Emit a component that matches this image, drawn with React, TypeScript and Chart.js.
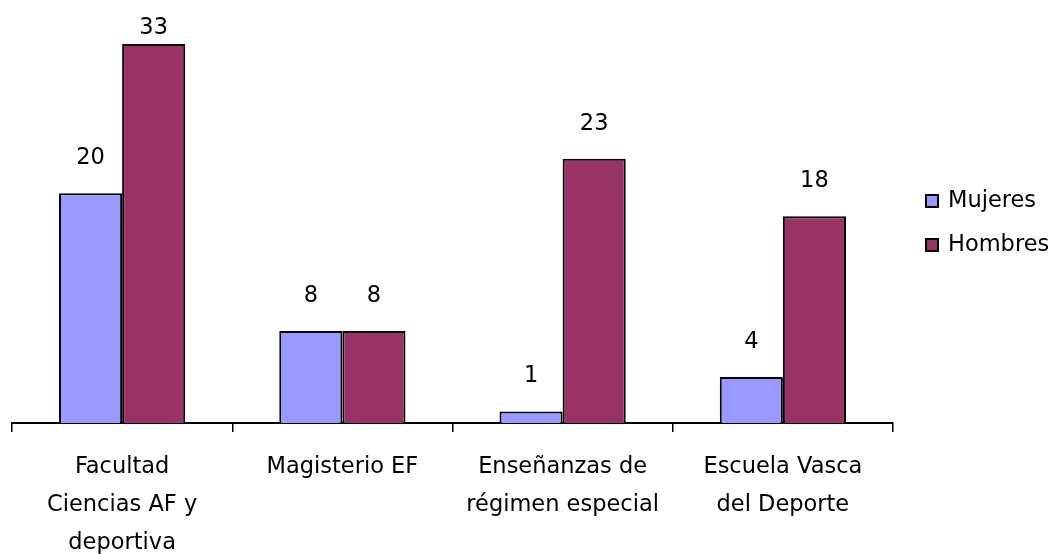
import React, { useEffect, useRef } from "react";
import { Chart, registerables } from "chart.js";

Chart.register(...registerables);

const categories: string[][] = [
  ["Facultad", "Ciencias AF y", "deportiva"],
  ["Magisterio EF"],
  ["Enseñanzas de", "régimen especial"],
  ["Escuela Vasca", "del Deporte"],
];
const seriesNames = ["Mujeres", "Hombres"];
const mujeres = [20, 8, 1, 4];
const hombres = [33, 8, 23, 18];
const colors = ["#9999FF", "#993366"];

const FONT = "'DejaVu Sans', sans-serif";
const SIZE = 22.5;

const labelsPlugin = {
  id: "barLabels",
  afterDatasetsDraw(chart: any) {
    const ctx = chart.ctx;
    ctx.save();
    ctx.font = `${SIZE}px ${FONT}`;
    ctx.fillStyle = "#000";
    ctx.textAlign = "center";
    ctx.textBaseline = "middle";
    chart.data.datasets.forEach((ds: any, i: number) => {
      const meta = chart.getDatasetMeta(i);
      meta.data.forEach((bar: any, j: number) => {
        const y = Math.max(bar.y - 35, 28);
        ctx.fillText(String(ds.data[j]), bar.x, y);
      });
    });
    // legend
    chart.data.datasets.forEach((ds: any, i: number) => {
      const yc = 201 + i * 44;
      ctx.fillStyle = ds.backgroundColor;
      ctx.fillRect(926, yc - 6, 12, 12);
      ctx.strokeStyle = "#000";
      ctx.lineWidth = 2;
      ctx.strokeRect(926, yc - 6, 12, 12);
      ctx.fillStyle = "#000";
      ctx.textAlign = "left";
      ctx.fillText(ds.label, 948, yc);
    });
    ctx.restore();
  },
};

export default function App() {
  const ref = useRef<HTMLCanvasElement>(null);
  useEffect(() => {
    if (!ref.current) return;
    const chart = new Chart(ref.current, {
      type: "bar",
      data: {
        labels: categories,
        datasets: [
          {
            label: seriesNames[0],
            data: mujeres,
            backgroundColor: colors[0],
            borderColor: "#000",
            borderWidth: 2,
          },
          {
            label: seriesNames[1],
            data: hombres,
            backgroundColor: colors[1],
            borderColor: "#000",
            borderWidth: 2,
          },
        ],
      },
      options: {
        animation: false,
        responsive: false,
        maintainAspectRatio: false,
        layout: { padding: { left: 12, right: 159, top: 21, bottom: 0 } },
        datasets: { bar: { categoryPercentage: 0.573, barPercentage: 1 } },
        plugins: { legend: { display: false }, tooltip: { enabled: false } },
        scales: {
          x: {
            afterFit: (scale: any) => {
              scale.height = 131;
            },
            grid: {
              display: true,
              drawOnChartArea: false,
              drawTicks: true,
              tickLength: 9,
              color: "#000",
              lineWidth: 1.5,
              offset: true,
            },
            border: { display: true, color: "#000", width: 2 },
            ticks: {
              color: "#000",
              padding: 16,
              maxRotation: 0,
              autoSkip: false,
              font: { family: FONT, size: SIZE, lineHeight: "38px" },
            },
          },
          y: {
            display: false,
            min: 0,
            max: 35,
          },
        },
      },
      plugins: [labelsPlugin],
    });
    return () => chart.destroy();
  }, []);
  return (
    <div style={{ position: "fixed", left: 0, top: 0, width: 1052, height: 554, background: "#fff" }}>
      <canvas ref={ref} width={1052} height={554} style={{ display: "block" }} />
    </div>
  );
}
